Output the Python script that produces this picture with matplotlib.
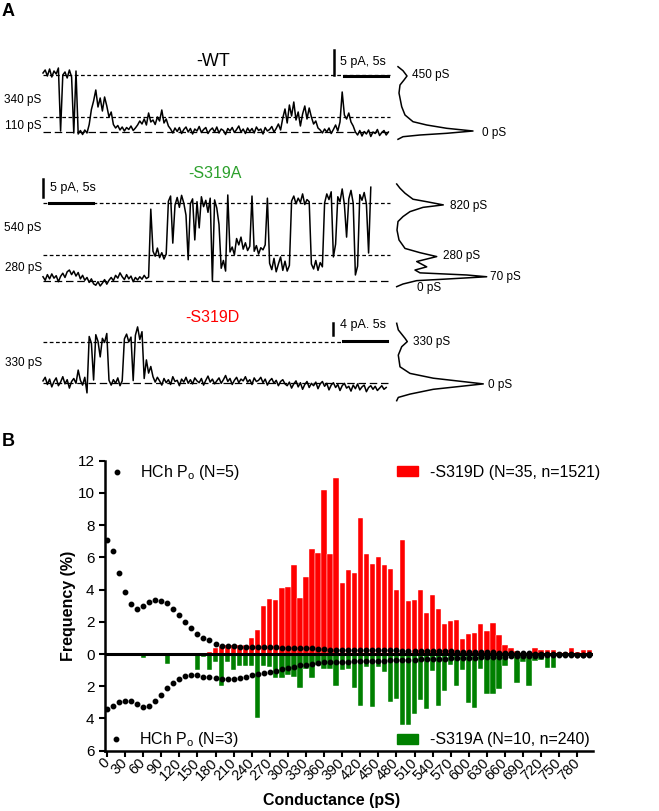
import numpy as np
import matplotlib
matplotlib.use("Agg")
import matplotlib.pyplot as plt
from matplotlib.lines import Line2D
from matplotlib.patches import Patch
from matplotlib.ticker import FuncFormatter

plt.rcParams['font.family'] = ['Liberation Sans', 'DejaVu Sans']
plt.rcParams['mathtext.fontset'] = 'custom'
plt.rcParams['mathtext.rm'] = 'Liberation Sans'
plt.rcParams['mathtext.it'] = 'Liberation Sans:italic'

W, H = 659, 811

# ======================================
# panel A: single channel traces (pA), one sample every 0.25 s
# ======================================
dt = 0.25
wt_trace = [11.8, 12.4, 11.2, 12.6, 11.0, 12.2, 11.6, 12.8, 0.2, 11.4, 12.0, 10.8, 12.4, 11.0,
            -0.2, 12.2, -0.4, 0.3, -0.5, 0.4, -0.2, 1.5,
            4.5, 6.2, 8.4, 5.0, 6.8, 4.2, 7.0, 5.2, 3.0, 4.0, 1.5,
            0.8, 1.3, 0.4, 1.0, 0.2, 0.9, 0.5, 1.2, 0.3, 0.8, 1.4,
            2.2, 1.6, 2.6, 1.4, 3.8, 2.0, 2.4, 1.5, 3.0, 2.2, 4.4, 1.8, 2.6, 1.2,
            0.6, -0.2, 0.8, 0.1, 0.9, -0.3, 0.5, 1.0, 0.0, 0.7, -0.4, 0.6, 0.2, 1.1, -0.1, 0.5, 0.9,
            -0.3, 0.4, 0.8, 0.0, 1.0, -0.2, 0.6, 0.3, -0.5, 0.7, 0.2, 0.9, -0.1, 0.5, 1.2, 0.0, 0.6,
            -0.3, 0.8, 0.1, 0.7, -0.2, 1.0, 0.3, 0.6, -0.4, 0.9, 0.2, 0.5, 1.1, 0.0, 0.7, 1.6, 0.4,
            2.8, 4.6, 1.8, 5.4, 3.2, 6.0, 2.4, 4.0, 1.2, 3.6, 5.2, 2.6, 4.8, 3.0, 1.6, 2.2, 0.8,
            0.4, -0.2, 0.6, 0.0, 0.8, -0.3, 0.5, 1.4, 0.2, 2.0,
            8.0, 3.4, 2.6, 3.8, 2.0, 1.2,
            0.0, -0.6, 0.3, -0.8, 0.1, -0.4, 0.4, -0.9, 0.0, -0.3, 0.5, -0.7, -0.1, 0.3, -0.6, 0.0]

s319a_trace = [1.2, 0.2, 1.8, 0.6, 2.0, 0.8, 1.5, -0.2, 1.3, 2.2, 1.0, 2.6, 3.1, 1.8, 2.8, 1.4,
               2.4, 0.6, 1.6, 0.2, 1.0, -0.4, 0.6, -0.8, -1.2, -0.2, -1.4, -0.6, 0.4, -0.9, 0.2,
               1.0, 0.1, 1.6, 0.8, 2.3, 1.2, 0.4, 1.8, 0.6, 1.4, -0.2, 1.0, 0.3, 1.2, 0.5, 1.6, 0.7, 1.1,
               20.3,
               8.4, 7.0, 9.3, 6.6, 8.0, 6.2, 7.6,
               22.5, 24.0, 10.7, 21.4, 23.6, 20.8, 24.2, 22.0, 18.6, 6.0, 21.8, 23.2, 11.6, 22.4,
               15.0, 23.8, 21.0, 22.8, 19.4, 23.4,
               0.0,
               22.9, 20.6, 16.0,
               3.6, 5.8, 2.8,
               24.3,
               8.2, 9.6, 7.4, 12.0, 10.2, 12.4, 9.0, 10.8, 8.6, 9.8, 24.0, 8.4, 10.0, 7.6, 9.4, 8.8, 10.2,
               23.4,
               5.0, 3.2, 6.4, 2.6, 4.8, 6.8, 3.0, 5.6, 2.8, 4.4,
               22.6, 24.0, 21.8, 23.4, 22.2, 24.6, 21.6, 23.0, 22.4,
               4.8, 3.4, 5.8, 3.0, 5.2, 4.0,
               22.0, 24.6, 23.0, 25.2, 6.8, 10.4, 23.8, 22.4, 26.0, 21.6, 12.4, 23.2, 25.6, 22.0,
               1.7, 4.2, 24.4, 22.8, 25.0, 21.8, 7.9, 26.5]

s319d_trace = [0.8, 2.0, -0.4, 1.4, -1.2, 0.6, 1.8, -0.8, 0.4, 2.2, -0.2, 1.2, -1.6, 0.6, 1.6, 0.0,
               4.4, 1.0, -0.6, 2.0, -3.2,
               15.6, 13.4, 1.1, 16.2, 14.0, 8.8, 15.0, 13.6, 16.6,
               1.0,
               -0.6, 1.2, 0.0, 1.8, -0.8, 0.8,
               14.8, 16.4, 13.8, 15.4,
               0.9,
               16.0, 18.8, 14.6, 17.2,
               1.6, 7.8, 3.4, 5.6, 2.2,
               0.4, 2.0, 0.8, -0.6, 1.6, 0.2, 1.2, -0.4, 2.2, 0.6, 1.0, -0.8, 1.4, 0.4, 2.0, 0.0,
               1.2, -0.2, 1.8, 0.8, 0.2, 1.6, -0.6, 1.0, 2.4, 0.4, 1.4, -0.2, 0.8, 1.8, 0.0, 1.2,
               2.6, 0.6, 1.6, -0.4, 1.0, 2.0, 0.2, 1.4, 0.8, 2.2, 0.4, 1.2, -0.4, 1.8, 0.6, 1.0,
               2.0, 0.2, 1.4, -0.6, 0.8, 1.6, 0.0, 1.0, -0.8, 0.6, 1.2, -0.2,
               -0.8, 0.4, -1.6, -0.2, 0.8, -1.2, 0.2, -2.0, -0.4, 0.6, -1.4, 0.0, -0.8, 0.4, -1.8,
               -0.2, 0.6, -1.0, 0.0, -2.2, -0.6, 0.2, -1.4, -0.4, -2.4, -0.8, 0.0, -1.6, -1.0, -2.6,
               -0.6, -1.8, -0.2, -2.2, -1.2, -0.6, -2.8, -1.4, -0.8, -2.0, -1.0, -2.4, -1.6, -0.8,
               -2.0, -1.4]

# amplitude histograms next to traces (counts, current pA)
wt_hist_cnt = [1, 6, 10, 7, 3, 2, 4.7, 8, 16, 29.7, 49.7, 76, 49.7, 23, 6, 1]
wt_hist_amp = [13.06, 12.26, 11.2, 10.4, 9.4, 7.8, 5.06, 3.4, 2.06, 1.4, 0.74, 0.2, -0.26, -0.6, -0.94, -1.46]
a_hist_cnt = [-0.3, 3, 8, 16, 29.7, 46.3, 26, 13, 6, 1, 0, 2, 8, 23, 39.7, 19.7, 29.7, 18, 23,
              69.7, 89.7, 46, 19.7, 6, -0.3]
a_hist_amp = [27.4, 26.2, 24.8, 23.1, 22.4, 21.5, 20.8, 19.6, 18.2, 16.8, 14.4, 11.6, 9.2, 8.0,
              6.9, 5.5, 4.0, 3.1, 2.3, 1.7, 1.2, 0.5, 0.1, -0.85, -1.6]
d_hist_cnt = [-0.3, 1.3, 8, 10.3, 4.7, 1.3, 3, 13, 36.3, 86.3, 36.3, 13, 1.3, -0.3]
d_hist_amp = [20, 17.8, 15, 13.9, 12.2, 9.4, 5.5, 3.3, 1.7, -0.2, -2, -3.6, -4.7, -5.8]

# ======================================
# panel B: conductance histograms (%)
# ======================================
d_bins = np.arange(170, 810, 10)
s319d_freq = [0.1, 0.35, 0.5, 0.55, 0.55, 0.55, 0.55, 1.0, 1.5, 3.0, 3.4, 3.35, 4.1, 4.15, 5.5,
              3.5, 4.8, 6.5, 6.3, 10.2, 6.2, 10.9, 4.4, 5.2, 5.05, 8.45, 6.2, 5.6, 6.0, 5.55, 5.3,
              4.0, 7.1, 3.3, 3.35, 3.95, 2.55, 3.65, 2.8, 1.85, 2.05, 2.1, 0.95, 1.25, 1.3, 1.85,
              1.4, 1.9, 1.2, 0.55, 0.4, 0.2, 0.05, 0.05, 0.4, 0.25, 0.25, 0.25, 0.1, 0.1, 0.35,
              0.1, 0.25, 0.25]
a_bins = np.arange(50, 750, 10)
s319a_freq = [0, 0.25, 0, 0, 0, 0.6, 0, 0, 0, 0, 1.0, 0.2, 1.0, 0.5, 2.0, 0.5, 1.0, 0.75, 0.75,
              0.75, 4.0, 0.75, 0.8, 1.5, 1.5, 1.3, 1.4, 2.1, 0.9, 1.5, 0.7, 0.9, 0.9, 2.0, 1.0,
              0.95, 2.1, 3.2, 0.8, 3.3, 0.8, 1.1, 3.0, 2.8, 4.4, 4.4, 3.7, 2.85, 3.4, 1.05, 3.2,
              2.3, 0.7, 2.0, 1.0, 3.05, 3.35, 0.9, 2.5, 2.45, 2.15, 0.75, 0, 1.8, 0.5, 2.0, 0.45,
              0.4, 0.85, 0.85]
po_bins = np.arange(0, 810, 10)
po_n5 = [7.1, 6.4, 5.05, 3.85, 3.1, 2.8, 3.0, 3.2, 3.33, 3.3, 3.15, 2.8, 2.4, 2.0, 1.6, 1.25, 1.0,
         0.85, 0.65, 0.52, 0.5, 0.48, 0.46, 0.45, 0.44, 0.43, 0.42, 0.42, 0.41, 0.4, 0.4, 0.39,
         0.4, 0.38, 0.36, 0.33, 0.3, 0.28, 0.27, 0.27, 0.26, 0.26, 0.25, 0.25, 0.24, 0.24, 0.23,
         0.22, 0.22, 0.21, 0.2, 0.2, 0.19, 0.18, 0.18, 0.17, 0.16, 0.16, 0.15, 0.14, 0.13, 0.12,
         0.12, 0.11, 0.1, 0.09, 0.08, 0.07, 0.06, 0.05, 0.04, 0.03, 0.02, 0.01, 0.0, 0.0, -0.01,
         -0.02, -0.03, -0.04, -0.05]
po_n3 = [3.4, 3.25, 2.95, 2.92, 2.9, 3.1, 3.3, 3.2, 2.92, 2.57, 2.12, 1.77, 1.52, 1.38, 1.29, 1.31,
         1.4, 1.45, 1.5, 1.55, 1.54, 1.53, 1.51, 1.45, 1.33, 1.24, 1.2, 1.12, 1.04, 0.92, 0.87,
         0.79, 0.71, 0.66, 0.62, 0.55, 0.52, 0.5, 0.49, 0.48, 0.47, 0.46, 0.45, 0.44, 0.43, 0.42,
         0.41, 0.4, 0.38, 0.37, 0.36, 0.35, 0.33, 0.32, 0.3, 0.29, 0.28, 0.27, 0.26, 0.25, 0.23,
         0.22, 0.2, 0.19, 0.18, 0.17, 0.16, 0.15, 0.14, 0.13, 0.12, 0.11, 0.1, 0.09, 0.08, 0.07,
         0.06, 0.05, 0.04, 0.03, 0.02]
xticks = np.arange(0, 781, 30)
yticks = np.arange(-6, 13, 2)


fig = plt.figure(figsize=(W / 100, H / 100), dpi=100)


def box(x0, y0, x1, y1):
    # axes placed by pixel box (left, top, right, bottom)
    a = fig.add_axes([x0 / W, 1 - y1 / H, (x1 - x0) / W, (y1 - y0) / H])
    a.set_axis_off()
    return a


short = (0, (3, 2))
long_ = (0, (6, 3))
fs = 8.5


def trace_panel(ytop, ybot, y0, scale, trace, hist_cnt, hist_amp):
    lo, hi = (y0 - ybot) / scale, (y0 - ytop) / scale
    ax = box(40, ytop, 392, ybot)
    ax.set_xlim(-0.34, 39.66)
    ax.set_ylim(lo, hi)
    t = np.arange(len(trace)) * dt
    ax.plot(t, trace, color='black', lw=1.1)
    hx = box(395, ytop, 530, ybot)
    hx.set_xlim(-2, 133)
    hx.set_ylim(lo, hi)
    hx.plot(hist_cnt, hist_amp, color='black', lw=1.1)
    return ax, hx


# --- WT ---
ax1, h1 = trace_panel(45, 145, 132, 5, wt_trace, wt_hist_cnt, wt_hist_amp)
ax1.hlines([11.4, 3.0], 0, 39.4, colors='black', lw=0.9, linestyles=short)
ax1.hlines(0, 0, 39.4, colors='black', lw=0.9, linestyles=long_)
ax1.plot([33.1, 33.1], [11.4, 16.4], color='black', lw=1.8)
ax1.plot([34.2, 39.2], [11.2, 11.2], color='black', lw=2.2)
ax1.text(33.75, 14.0, "5 pA, 5s", fontsize=fs + 0.5, va='center', ha='left')
ax1.text(19.3, 14.0, "-WT", fontsize=13, va='center', ha='center')
ax1.text(-0.15, 6.4, "340 pS", fontsize=fs, va='center', ha='right', clip_on=False)
ax1.text(-0.15, 1.2, "110 pS", fontsize=fs, va='center', ha='right', clip_on=False)
h1.text(15, 11.4, "450 pS", fontsize=fs, va='center')
h1.text(85, -0.2, "0 pS", fontsize=fs, va='center')

# --- S319A ---
ax2, h2 = trace_panel(170, 292, 281, 3.54, s319a_trace, a_hist_cnt, a_hist_amp)
ax2.hlines([21.95, 7.34], 0, 39.4, colors='black', lw=0.9, linestyles=short)
ax2.hlines(0, 0, 39.4, colors='black', lw=0.9, linestyles=long_)
ax2.plot([0.0, 0.0], [23.8, 28.8], color='black', lw=1.8)
ax2.plot([0.68, 5.68], [22.1, 22.1], color='black', lw=2.2)
ax2.text(0.8, 26.3, "5 pA, 5s", fontsize=fs + 0.5, va='center', ha='left')
ax2.text(19.5, 30.5, "-S319A", fontsize=11.5, va='center', ha='center', color='#2ca02c')
ax2.text(-0.15, 15.0, "540 pS", fontsize=fs, va='center', ha='right', clip_on=False)
ax2.text(-0.15, 3.7, "280 pS", fontsize=fs, va='center', ha='right', clip_on=False)
h2.text(53, 21.3, "820 pS", fontsize=fs, va='center')
h2.text(46, 7.1, "280 pS", fontsize=fs, va='center')
h2.text(93, 1.2, "70 pS", fontsize=fs, va='center')
h2.text(20, -2.0, "0 pS", fontsize=fs, va='center')

# --- S319D ---
ax3, h3 = trace_panel(315, 405, 383.3, 3, s319d_trace, d_hist_cnt, d_hist_amp)
ax3.hlines(13.87, 0, 34.1, colors='black', lw=0.9, linestyles=short)
ax3.hlines(0, 0, 39.2, colors='black', lw=0.9, linestyles=long_)
ax3.plot([32.9, 32.9], [16.1, 20.1], color='black', lw=1.8)
ax3.plot([34.1, 39.1], [14.2, 14.2], color='black', lw=2.2)
ax3.text(33.75, 19.4, "4 pA. 5s", fontsize=fs + 0.5, va='center', ha='left')
ax3.text(19.3, 21.8, "-S319D", fontsize=11.5, va='center', ha='center', color='red')
ax3.text(-0.15, 6.8, "330 pS", fontsize=fs, va='center', ha='right', clip_on=False)
h3.text(16, 13.9, "330 pS", fontsize=fs, va='center')
h3.text(91, -0.6, "0 pS", fontsize=fs, va='center')

fig.text(2 / W, 1 - 11 / H, "A", fontsize=13, fontweight='bold', va='center')
fig.text(2 / W, 1 - 442 / H, "B", fontsize=13, fontweight='bold', va='center')

# ======================================
# panel B
# ======================================
axb = fig.add_axes([105 / W, 1 - 750.7 / H, 488 / W, 290 / H])
axb.bar(d_bins, s319d_freq, width=8.8, color='red', edgecolor='white', linewidth=0.3, zorder=2)
axb.bar(a_bins, -np.array(s319a_freq), width=8.8, color='green', edgecolor='white',
        linewidth=0.3, zorder=2)
axb.axhline(0, color='black', lw=2.2, zorder=3)
axb.plot(po_bins, po_n5, 'o', color='black', ms=3.2, zorder=4)
axb.plot(po_bins, -np.array(po_n3), 'o', color='black', ms=3.2, zorder=4)

axb.set_xlim(-3.3, 806)
axb.set_ylim(-6, 12)
axb.set_xticks(xticks)
axb.set_xticklabels([str(v) for v in xticks], rotation=45, ha='right', va='center',
                    rotation_mode='anchor', fontsize=10.5)
axb.set_yticks(yticks)
axb.yaxis.set_major_formatter(FuncFormatter(lambda v, p: f"{abs(v):g}"))
axb.tick_params(axis='y', labelsize=11, width=1.5, length=4)
axb.tick_params(axis='x', width=1.5, length=4, pad=3)
for s in ['top', 'right']:
    axb.spines[s].set_visible(False)
for s in ['left', 'bottom']:
    axb.spines[s].set_linewidth(1.8)
axb.set_ylabel("Frequency (%)", fontsize=11.5, fontweight='bold')
axb.yaxis.set_label_coords((76 - 105) / 488, 0.5)
axb.set_xlabel("Conductance (pS)", fontsize=11.5, fontweight='bold', va='top')
axb.xaxis.set_label_coords(0.465, -0.146)

dot = Line2D([], [], marker='o', ls='none', color='black', ms=3.2)
kw = dict(frameon=False, borderpad=0, borderaxespad=0, fontsize=11.5, loc='center left')
l1 = axb.legend([dot], ["HCh P$_\\mathrm{o}$ (N=5)"], bbox_to_anchor=(0.0102, 0.9576),
                handlelength=0.9, handletextpad=1.0, numpoints=1, **kw)
axb.add_artist(l1)
l2 = axb.legend([Patch(color='red')], ["-S319D (N=35, n=1521)"], bbox_to_anchor=(0.598, 0.961),
                handlelength=1.3, handleheight=0.65, handletextpad=0.8, **kw)
axb.add_artist(l2)
l3 = axb.legend([dot], ["HCh P$_\\mathrm{o}$ (N=3)"], bbox_to_anchor=(0.0082, 0.0369),
                handlelength=0.9, handletextpad=1.0, numpoints=1, **kw)
axb.add_artist(l3)
axb.legend([Patch(color='green')], ["-S319A (N=10, n=240)"], bbox_to_anchor=(0.598, 0.0369),
           handlelength=1.3, handleheight=0.65, handletextpad=0.8, **kw)

fig.savefig("out.png", dpi=100)
